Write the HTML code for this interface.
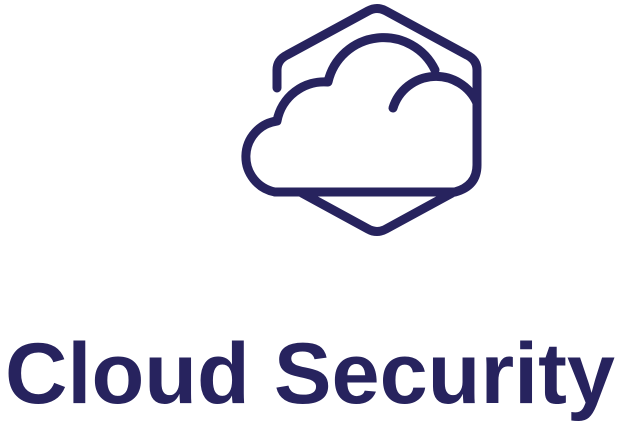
<!DOCTYPE html>
<html><head><style>html,body{margin:0;padding:0;background:#fff;width:620px;height:432px;overflow:hidden}</style></head>
<body>
<svg width="620" height="432" viewBox="0 0 620 432" xmlns="http://www.w3.org/2000/svg">
<g fill="none" stroke="#27235e" stroke-width="9" stroke-linecap="round" stroke-linejoin="round">
<path d="M277 88 V70 Q277 60 287 55 L368 11 Q377 6 386 11 L467 55 Q477 60 477 70 V103"/>
<path d="M302 193 L368 229 Q377 234 386 229 L452 193"/>
<path d="M275 192 H455 Q477 186 477 165 V103"/>
<path d="M275 192 A36 36 0 0 1 277 121 A48 48 0 0 1 328 82 A57 57 0 0 1 435 70"/>
<path d="M393 108 A45 45 0 0 1 477 103"/>
</g>
<text x="5" y="403" textLength="610" lengthAdjust="spacingAndGlyphs" font-family="Liberation Sans, sans-serif" font-weight="bold" font-size="86" fill="#27235e">Cloud Security</text>
</svg>
</body></html>
